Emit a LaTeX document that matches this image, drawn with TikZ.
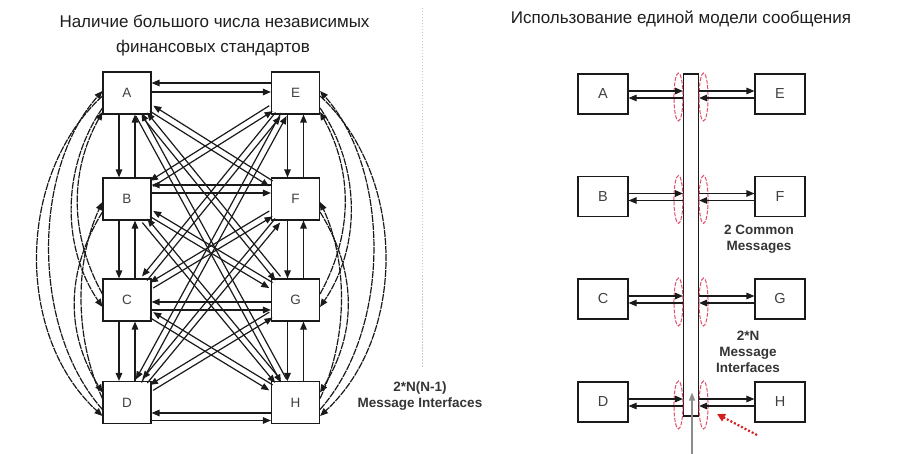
\documentclass[tikz,border=0pt]{standalone}
\usepackage{fontspec}
\setmainfont{Liberation Sans}
\usetikzlibrary{arrows.meta,calc}
\definecolor{ln}{HTML}{1A1A1A}
\definecolor{tx}{HTML}{1E1E1E}
\definecolor{redl}{HTML}{E05068}
\definecolor{redd}{HTML}{D42020}
\def\rowy#1{\ifcase#1\or93\or199\or300\or402.5\fi}
\begin{document}
\begin{tikzpicture}[x=1pt,y=-1pt,
  arr/.style={draw=ln, line width=1.2pt, -{Triangle[length=8pt,width=6.5pt]}},
  arc/.style={arr, dash pattern=on 7pt off 1pt},
  boxl/.style={draw=ln, fill=white, line width=1.1pt, minimum width=48, minimum height=42, inner sep=0, font=\fontsize{13.5}{13.5}\selectfont, text=tx!85},
  boxr/.style={draw=ln, fill=white, line width=1.1pt, minimum width=50, minimum height=40, inner sep=0, font=\fontsize{14.5}{14.5}\selectfont, text=tx!85},
  title/.style={font=\fontsize{17}{17}\selectfont, text=tx, anchor=base, inner sep=0},
  lbl/.style={font=\bfseries\fontsize{13.5}{16}\selectfont, text=tx!90, align=center, inner sep=0},
  redell/.style={draw=redl, line width=1pt, dash pattern=on 4pt off 1.5pt},
]
\useasboundingbox[fill=white] (0,0) rectangle (897,454);

% titles
\node[title] (t1) at (214.5,28) {Наличие большого числа независимых};
\node[title] (t2) at (213,53) {финансовых стандартов};
\node[title] (t3) at (681,24) {Использование единой модели сообщения};

% separator
\draw[black!20, line width=0.8pt, dash pattern=on 1.5pt off 1.5pt] (422,8) -- (422,367);

% ---------- left diagram ----------
\node[boxl] (A) at (127,93) {A};
\node[boxl] (B) at (127,199) {B};
\node[boxl] (C) at (127,300) {C};
\node[boxl] (D) at (127,402.5) {D};
\node[boxl] (E) at (295.5,93) {E};
\node[boxl] (F) at (295.5,199) {F};
\node[boxl] (G) at (295.5,300) {G};
\node[boxl] (H) at (295.5,402.5) {H};

% vertical neighbours
\foreach \u/\v in {A/B,B/C,C/D,E/F,F/G,G/H}{
  \draw[arr] ([shift={(-8,0)}]\u.south) -- ([shift={(-8,0)}]\v.north);
  \draw[arr] ([shift={(8,0)}]\v.north) -- ([shift={(8,0)}]\u.south);
}
% horizontal neighbours
\draw[arr] ([shift={(0,-10)}]E.west) -- ([shift={(0,-10)}]A.east);
\draw[arr] ([shift={(0,-1)}]A.east) -- ([shift={(0,-1)}]E.west);
\draw[arr] ([shift={(0,-14)}]F.west) -- ([shift={(0,-14)}]B.east);
\draw[arr] ([shift={(0,-6)}]B.east) -- ([shift={(0,-6)}]F.west);
\draw[arr] ([shift={(0,2)}]G.west) -- ([shift={(0,2)}]C.east);
\draw[arr] ([shift={(0,10)}]C.east) -- ([shift={(0,10)}]G.west);
\draw[arr] ([shift={(0,10.5)}]H.west) -- ([shift={(0,10.5)}]D.east);
\draw[arr] ([shift={(0,18)}]D.east) -- ([shift={(0,18)}]H.west);

% diagonals
\foreach \u/\i/\v/\j in {A/1/F/2, A/1/G/3, A/1/H/4, B/2/E/1, B/2/G/3, B/2/H/4,
                         C/3/E/1, C/3/F/2, C/3/H/4, D/4/E/1, D/4/F/2, D/4/G/3}{
  \pgfmathsetmacro\dy{\rowy{\j}-\rowy{\i}}
  \pgfmathsetmacro\ang{atan2(\dy,168.5)}
  \draw[arr, transform canvas={shift={(\ang+90:3.2)}}] (\u) -- (\v);
  \draw[arr, transform canvas={shift={(\ang-90:3.2)}}] (\v) -- (\u);
}

% outer arcs, left
\draw[arc] ([shift={(0,3)}]A.west) .. controls +(-87,80) and +(-87,-80) .. ([shift={(0,13.5)}]D.west);
\draw[arc] ([shift={(0,7)}]D.west) .. controls +(-71,-80) and +(-71,80) .. ([shift={(0,-2)}]A.west);
\draw[arc] ([shift={(0,15)}]A.west) .. controls +(-41,60) and +(-41,-60) .. ([shift={(0,7)}]C.west);
\draw[arc] ([shift={(0,-6)}]C.west) .. controls +(-33,-60) and +(-33,60) .. ([shift={(0,19)}]A.west);
\draw[arc] ([shift={(0,13)}]B.west) .. controls +(-37,60) and +(-37,-60) .. ([shift={(0,-10)}]D.west);
\draw[arc] ([shift={(0,-4)}]D.west) .. controls +(-28,-60) and +(-28,60) .. ([shift={(0,3)}]B.west);
% outer arcs, right
\draw[arc] ([shift={(0,3)}]E.east) .. controls +(87,80) and +(87,-80) .. ([shift={(0,13.5)}]H.east);
\draw[arc] ([shift={(0,7)}]H.east) .. controls +(71,-80) and +(71,80) .. ([shift={(0,-2)}]E.east);
\draw[arc] ([shift={(0,15)}]E.east) .. controls +(41,60) and +(41,-60) .. ([shift={(0,7)}]G.east);
\draw[arc] ([shift={(0,-6)}]G.east) .. controls +(33,-60) and +(33,60) .. ([shift={(0,19)}]E.east);
\draw[arc] ([shift={(0,13)}]F.east) .. controls +(37,60) and +(37,-60) .. ([shift={(0,-10)}]H.east);
\draw[arc] ([shift={(0,-4)}]H.east) .. controls +(28,-60) and +(28,60) .. ([shift={(0,3)}]F.east);

\node[lbl] (L1) at (420,396) {2*N(N-1)\\Message Interfaces};

% ---------- right diagram ----------
\node[draw=ln, fill=white, line width=1.1pt, minimum width=15, minimum height=342, inner sep=0] (bus) at (691,245) {};
\node[boxr] (A2) at (603,94) {A};
\node[boxr] (B2) at (603,196.5) {B};
\node[boxr] (C2) at (603,299) {C};
\node[boxr] (D2) at (603,402) {D};
\node[boxr] (E2) at (780,94) {E};
\node[boxr] (F2) at (780,196.5) {F};
\node[boxr] (G2) at (780,299) {G};
\node[boxr] (H2) at (780,402) {H};

\foreach \u/\v in {A2/E2,B2/F2,C2/G2,D2/H2}{
  \draw[redell] ([shift={(-4.5,3)}]\u.east -| bus.west) ellipse [x radius=4.5, y radius=24];
  \draw[redell] ([shift={(4.5,3)}]\u.east -| bus.east) ellipse [x radius=4.5, y radius=24];
  \draw[arr] ([shift={(0,-3)}]\u.east) -- ([shift={(0,-3)}]\u.east -| bus.west);
  \draw[arr] ([shift={(0,4)}]\u.east -| bus.west) -- ([shift={(0,4)}]\u.east);
  \draw[arr] ([shift={(0,-3)}]\v.west -| bus.east) -- ([shift={(0,-3)}]\v.west);
  \draw[arr] ([shift={(0,4)}]\v.west) -- ([shift={(0,4)}]\v.west -| bus.east);
}

\coordinate (gs) at (692,454);
\draw[black!45, line width=1.2pt, -{Triangle[length=8pt,width=6pt]}] (gs) -- ([shift={(1,-24)}]bus.south);
\coordinate (rs) at (757,435);
\coordinate (re) at (717,414);
\draw[redd, line width=2.2pt, dash pattern=on 2pt off 2pt, -{Triangle[length=8pt,width=8pt]}] (rs) -- (re);

\node[lbl] (L2) at (759,239) {2 Common\\Messages};
\node[lbl] (L3) at (748,352) {2*N\\Message\\Interfaces};
\end{tikzpicture}
\end{document}
